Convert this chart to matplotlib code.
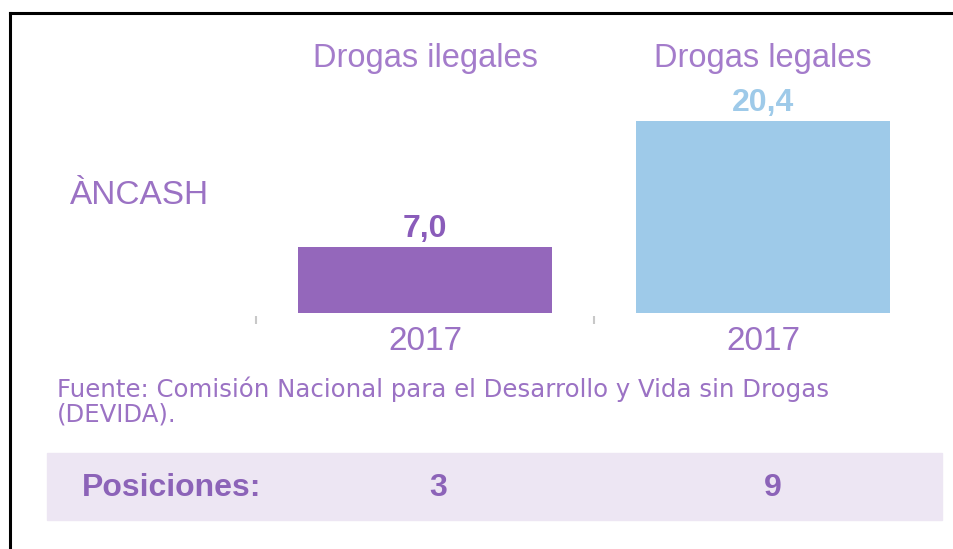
import matplotlib
matplotlib.use("Agg")
import matplotlib.pyplot as plt
from matplotlib.patches import Rectangle
from matplotlib.lines import Line2D

plt.rcParams['font.family'] = ['Liberation Sans', 'DejaVu Sans']

# Data
categories = ["Drogas ilegales", "Drogas legales"]
years = ["2017", "2017"]
values = [7.0, 20.4]
value_labels = ["7,0", "20,4"]
region = "ÀNCASH"
positions_label = "Posiciones:"
positions = ["3", "9"]
source = "Fuente: Comisión Nacional para el Desarrollo y Vida sin Drogas\n(DEVIDA)."

bar_colors = ["#9467bb", "#9ecae9"]
label_colors = ["#8a5cba", "#9ecae9"]
purple_text = "#9b72c4"
header_color = "#a47ccb"

W, H = 954, 549
fig = plt.figure(figsize=(W / 100, H / 100), dpi=100)

def fx(px):
    return px / W

def fy(py):
    return 1 - py / H

# frame lines (top and left)
fig.add_artist(Line2D([fx(10), fx(954)], [fy(13), fy(13)], color="black", lw=2.2))
fig.add_artist(Line2D([fx(10), fx(10)], [fy(13), fy(549)], color="black", lw=2.2))

# bar axes
x0, x1 = 256, 932
ybase, ytop = 313, 121
ax = fig.add_axes([fx(x0), fy(ybase), fx(x1 - x0), (ybase - ytop) / H])
xs = list(range(len(values)))
ax.bar(xs, values, width=0.75, color=bar_colors)
ax.set_xlim(-0.5, len(values) - 0.5)
ax.set_ylim(0, max(values))
for s in ["top", "right", "left", "bottom"]:
    ax.spines[s].set_visible(False)
ax.spines["bottom"].set_position(("outward", 2))
ax.set_yticks([])
ax.set_xticks(xs)
ax.set_xticklabels(years, fontsize=24, color=purple_text)
ax.tick_params(axis="x", which="major", length=0, pad=7)
ax.set_xticks([x - 0.5 for x in xs], minor=True)
ax.tick_params(axis="x", which="minor", length=6, width=1.5, color="#c8c8c8")

for x, v, lab, c in zip(xs, values, value_labels, label_colors):
    ax.annotate(lab, (x, v), xytext=(0, 2), textcoords="offset points",
                ha="center", va="bottom", fontsize=23, fontweight="bold",
                color=c, clip_on=False)

# headers
for x, cat in zip(xs, categories):
    ax.annotate(cat, (x, 1), xycoords=("data", "figure fraction"),
                xytext=(x, fy(59)), textcoords=("data", "figure fraction"),
                ha="center", va="center", fontsize=23.5, color=header_color)

fig.text(fx(70), fy(196), region, ha="left", va="center", fontsize=24, color=purple_text)

fig.text(fx(57), fy(377), source, ha="left", va="top", fontsize=17.6,
         family=["DejaVu Sans"], color=purple_text, linespacing=1.0)

# positions band
fig.add_artist(Rectangle((fx(47), fy(520)), fx(942 - 47), (520 - 453) / H,
                         transform=fig.transFigure, color="#ede6f3", zorder=0))
fig.text(fx(82), fy(488), positions_label, ha="left", va="center", fontsize=23,
         fontweight="bold", color="#8c63b8")
offsets = [0.04, 0.03]
for x, p, o in zip(xs, positions, offsets):
    ax.annotate(p, (x, 0), xycoords="data",
                xytext=(x + o, fy(488)), textcoords=("data", "figure fraction"),
                ha="center", va="center", fontsize=23, fontweight="bold", color="#8c63b8")

fig.savefig("out.png", dpi=100)
